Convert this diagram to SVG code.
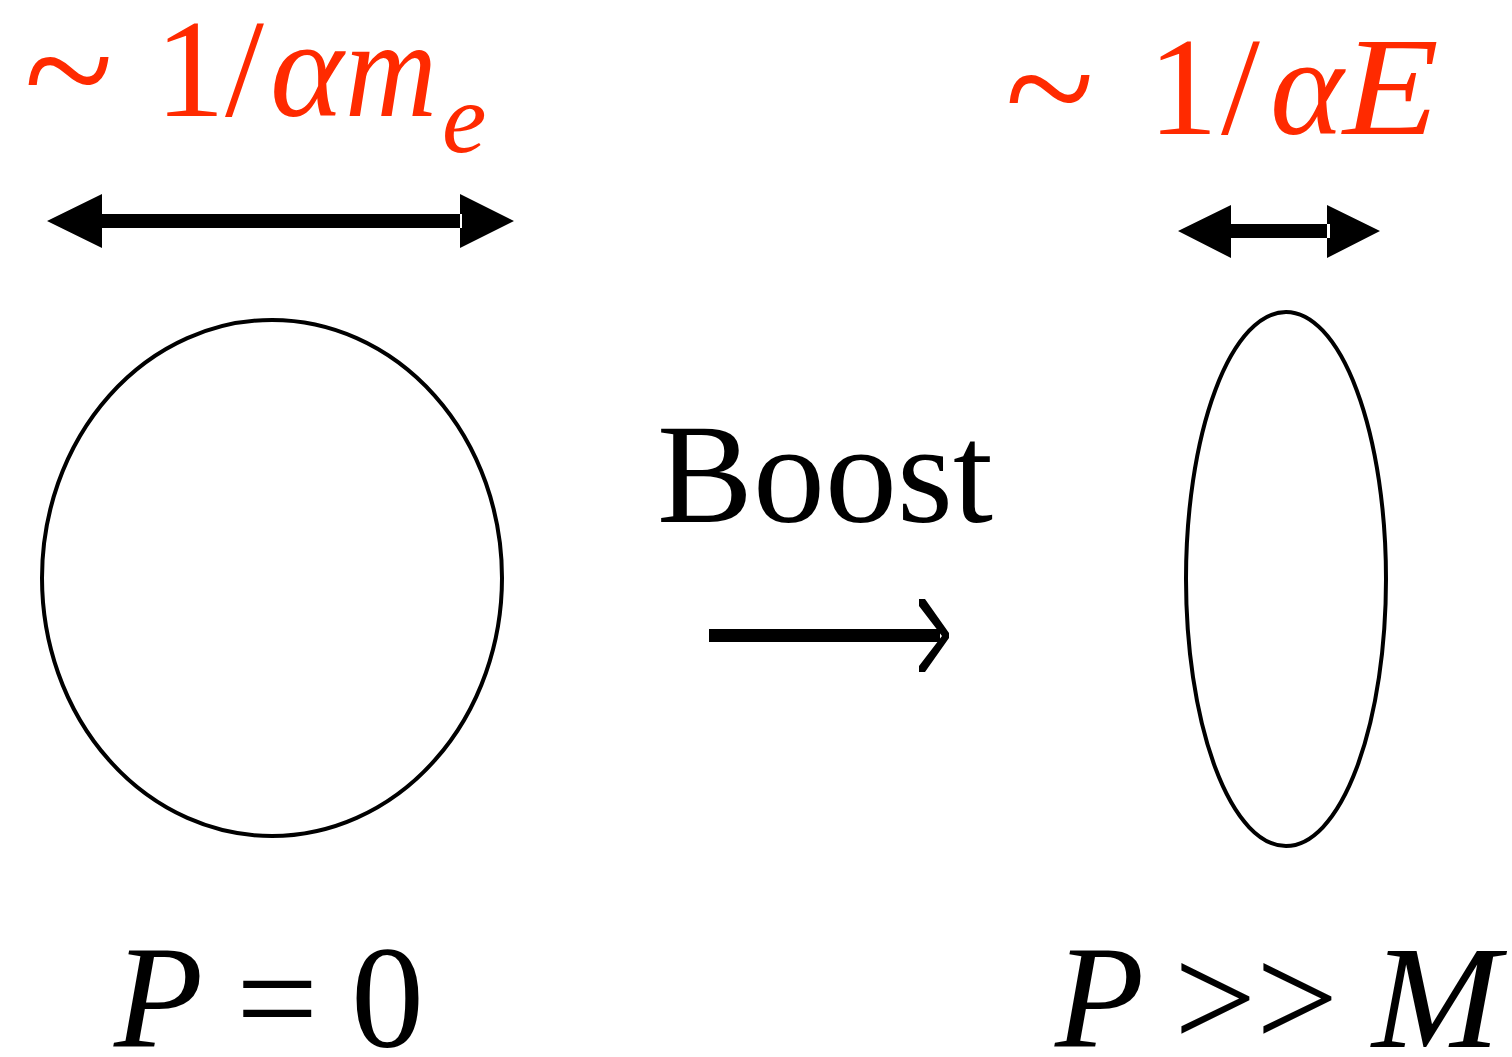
<svg xmlns="http://www.w3.org/2000/svg" width="1512" height="1057" viewBox="0 0 1512 1057">
<style>
text { font-family: "Liberation Serif", "Times New Roman", serif; }
.red { fill: #ff2a00; font-size: 140px; }
.blk { fill: #000; font-size: 146px; }
.it { font-style: italic; }
.tl { font-size: 165px; }
.shape { fill: none; stroke: #000; stroke-width: 4; }
</style>
<rect width="1512" height="1057" fill="#fff"/>
<g id="label-left">
<text class="red tl" x="24" y="126">~</text>
<text class="red" y="116"><tspan x="155">1</tspan><tspan x="225">/</tspan><tspan class="it" x="270">α</tspan></text>
<text class="red it" x="345" y="116" textLength="92" lengthAdjust="spacingAndGlyphs">m</text>
<text class="red it" x="442" y="152" style="font-size:100px">e</text>
</g>
<g id="label-right">
<text class="red tl" x="1005" y="144">~</text>
<text class="red" y="134"><tspan x="1148">1</tspan><tspan x="1221">/</tspan><tspan class="it" x="1270">α</tspan></text>
<text class="red it" x="1343" y="134" textLength="96" lengthAdjust="spacingAndGlyphs">E</text>
</g>
<g id="atom-rest">
<ellipse class="shape" cx="272" cy="578" rx="230" ry="258"/>
</g>
<g id="atom-boosted">
<ellipse class="shape" cx="1286" cy="579" rx="100" ry="267"/>
</g>
<g id="boost-label">
<text x="657" y="522" style="font-size:141px" textLength="336" lengthAdjust="spacingAndGlyphs">Boost</text>
</g>
<g id="label-p0">
<text class="blk" y="1047"><tspan class="it" x="114">P</tspan><tspan x="236">=</tspan><tspan x="351">0</tspan></text>
</g>
<g id="label-pm">
<text class="blk" y="1047"><tspan class="it" x="1055">P</tspan><tspan x="1174">&gt;</tspan><tspan x="1256">&gt;</tspan></text>
<text class="blk it" x="1372" y="1047" textLength="128" lengthAdjust="spacingAndGlyphs">M</text>
</g>
<g id="connectors">
<path d="M96 214 H462 V228 H96 Z M47 221 L102 194 V248 Z M514 221 L460 194 V248 Z" fill="#000"/>
<path d="M1228 224 H1330 V238 H1228 Z M1178 231 L1231 205 V258 Z M1380 231 L1327 205 V258 Z" fill="#000"/>
<path d="M709 629 H940 V642 H709 Z M919 599 L925 599 L949 633 L949 638 L925 672 L919 672 L919 666 L942 636 L919 606 Z" fill="#000"/>
</g>
</svg>
